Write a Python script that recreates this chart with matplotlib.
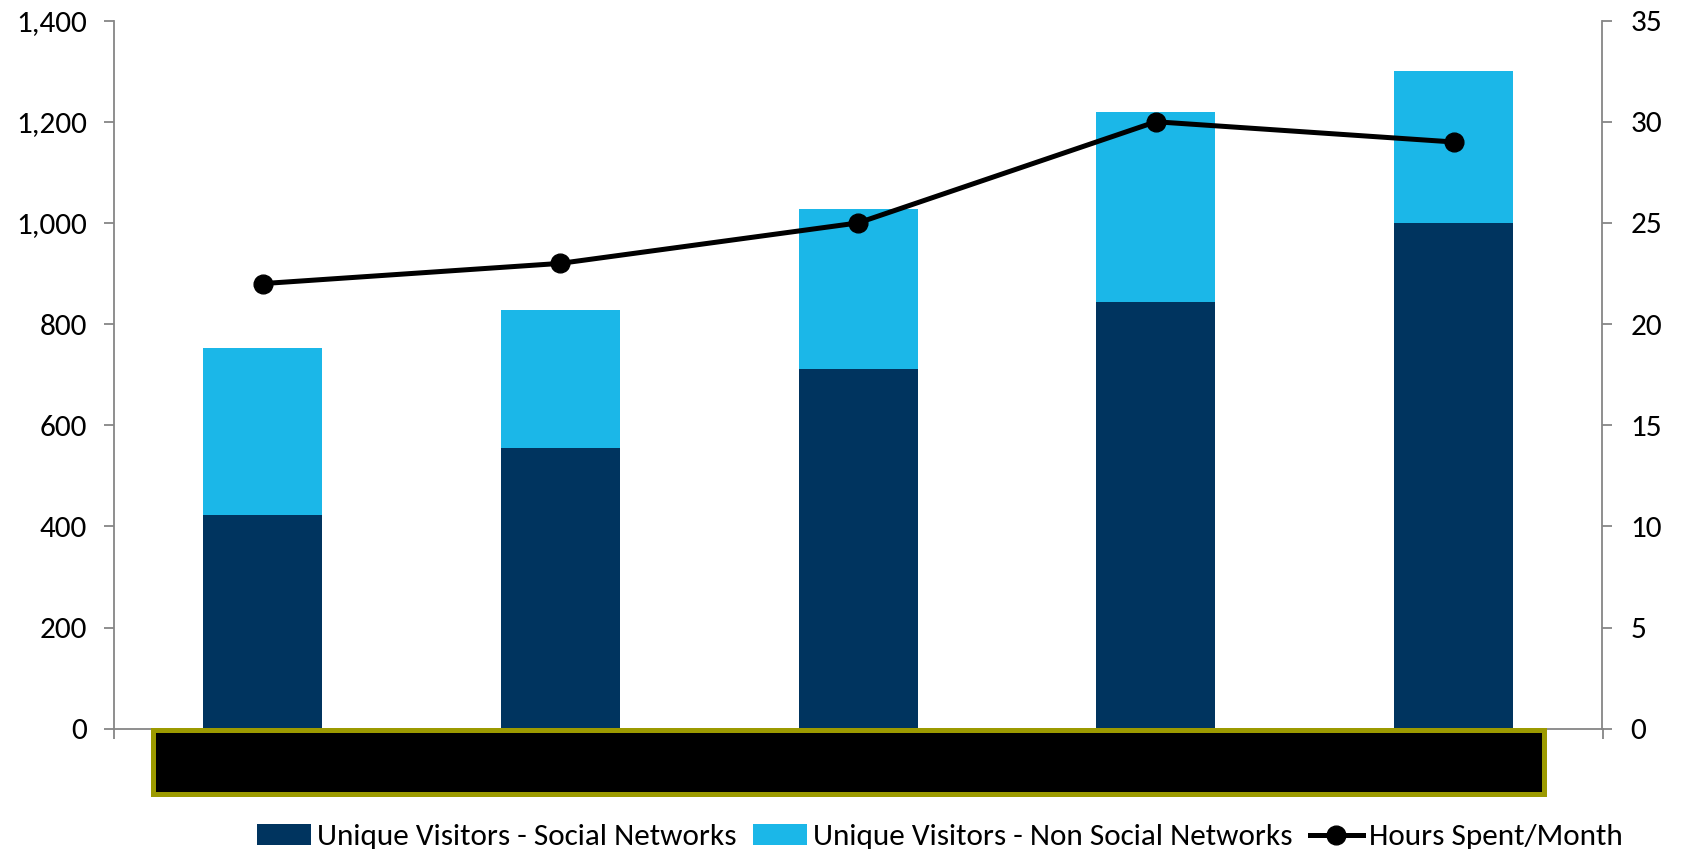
import matplotlib
matplotlib.use("Agg")
import matplotlib.pyplot as plt
from matplotlib.patches import Rectangle
from matplotlib.lines import Line2D
from matplotlib.patches import Patch
from matplotlib.ticker import FuncFormatter, MultipleLocator

plt.rcParams['font.family'] = ['Carlito', 'Lato', 'DejaVu Sans']

# Data
categories = ["2007", "2008", "2009", "2010", "2011"]
social_networks = [422, 554, 712, 843, 1000]
non_social_networks = [331, 274, 315, 377, 300]
hours_per_month = [22, 23, 25, 30, 29]

series_names = ["Unique Visitors - Social Networks",
                "Unique Visitors - Non Social Networks",
                "Hours Spent/Month"]

DARK = "#00345F"
LIGHT = "#1BB7E8"
GRID = "#868686"
FS = 22.5

W, H = 1682, 849
fig = plt.figure(figsize=(W / 100, H / 100), dpi=100)
ax = fig.add_axes([113.7 / W, (H - 728.7) / H, (1602.5 - 113.7) / W, (728.7 - 20.6) / H])

x = list(range(len(categories)))
ax.bar(x, social_networks, width=0.4, color=DARK, zorder=2)
ax.bar(x, non_social_networks, width=0.4, bottom=social_networks, color=LIGHT, zorder=2)

ax.set_xlim(-0.5, len(categories) - 0.5)
ax.set_ylim(0, 1400)
ax.yaxis.set_major_locator(MultipleLocator(200))
ax.yaxis.set_major_formatter(FuncFormatter(lambda v, p: f"{int(v):,}"))
ax.set_xticks([i - 0.5 for i in range(len(categories) + 1)])
ax.set_xticklabels([])

for s in ["top", "right"]:
    ax.spines[s].set_visible(False)
for s in ["left", "bottom"]:
    ax.spines[s].set_color(GRID)
    ax.spines[s].set_linewidth(1.3)
ax.tick_params(axis="y", direction="out", length=7.2, width=1.3, color=GRID,
               labelsize=FS, pad=12, labelcolor="black")
ax.tick_params(axis="x", direction="out", length=7.2, width=1.3, color=GRID)

ax2 = ax.twinx()
ax2.plot(x, hours_per_month, color="black", linewidth=3.6, marker="o",
         markersize=13.5, zorder=3)
ax2.set_ylim(0, 35)
ax2.yaxis.set_major_locator(MultipleLocator(5))
for s in ["top", "left", "bottom"]:
    ax2.spines[s].set_visible(False)
ax2.spines["right"].set_color(GRID)
ax2.spines["right"].set_linewidth(1.3)
ax2.tick_params(axis="y", direction="out", length=7.2, width=1.3, color=GRID,
                labelsize=FS, pad=13, labelcolor="black")

# Box drawn over the category labels
fig.patches.append(Rectangle((152.5 / W, (H - 793.5) / H), (1543.5 - 152.5) / W,
                             (793.5 - 729.5) / H, transform=fig.transFigure,
                             facecolor="black", edgecolor="#9C9A00",
                             linewidth=3.6, zorder=10))

handles = [Patch(facecolor=DARK), Patch(facecolor=LIGHT),
           Line2D([0], [0], color="black", linewidth=3.6, marker="o", markersize=13.5)]
fig.legend(handles, series_names, loc="center", bbox_to_anchor=(940 / W, (H - 837) / H),
           ncol=3, frameon=False, fontsize=FS, handlelength=1.7, handleheight=0.7,
           handletextpad=0.2, columnspacing=0.55, borderaxespad=0, borderpad=0)

fig.savefig("out.png", dpi=100)
